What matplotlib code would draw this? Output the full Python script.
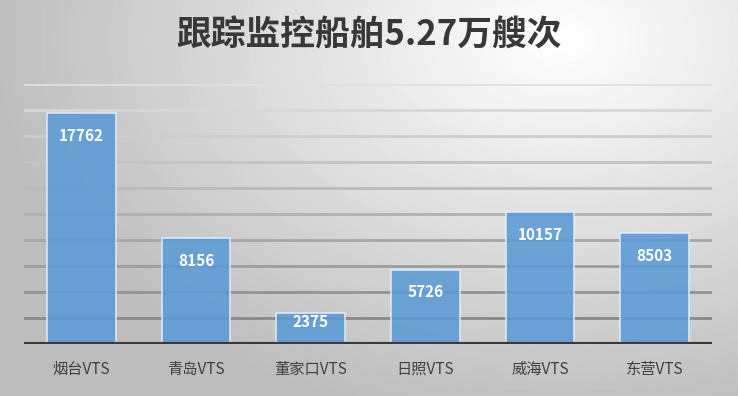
import numpy as np
import matplotlib.pyplot as plt

plt.rcParams['font.family'] = ['Noto Sans CJK SC', 'DejaVu Sans']

stations = ["烟台VTS", "青岛VTS", "董家口VTS", "日照VTS", "威海VTS", "东营VTS"]
ships = [17762, 8156, 2375, 5726, 10157, 8503]
title = "跟踪监控船舶5.27万艘次"

fig = plt.figure(figsize=(7.38, 3.96), dpi=100)

# radial grey background, brightest near the title
bg = fig.add_axes([0, 0, 1, 1], zorder=-10)
yy, xx = np.mgrid[0:396, 0:738]
r = np.sqrt(((xx - 560) / 620) ** 2 + ((yy - 40) / 420) ** 2)
shade = np.clip(1.0 - 0.28 * r, 0.74, 1.0)
bg.imshow(shade, cmap="gray", vmin=0, vmax=1, aspect="auto", interpolation="bilinear")
bg.axis("off")

ax = fig.add_axes([24 / 738, 1 - 344 / 396, 688 / 738, 260 / 396])
ax.set_facecolor("none")
x = np.arange(len(stations))
ax.set_xlim(-0.5, len(stations) - 0.5)
ax.set_ylim(0, 20000)

# gridlines fading toward the top
for level in range(2000, 20001, 2000):
    t = level / 20000
    c = 0.5 + 0.38 * t
    ax.axhline(level, color=(c, c, c), linewidth=2, zorder=1)

bars = ax.bar(x, ships, width=0.6, color="#5b9bd5", alpha=0.88,
              edgecolor="#e4eef8", linewidth=1.2, zorder=2)
ax.axhline(0, color="#3a3a3a", linewidth=3, zorder=3)

# labels sit inside the top end; short bars push them up
for xi, v in zip(x, ships):
    ax.text(xi, v - min(1750, 0.3 * v), str(v), ha="center", va="center",
            color="white", fontsize=11, fontweight="bold", zorder=4)

ax.set_xticks(x)
ax.set_xticklabels(stations, fontsize=11, color="#404040")
ax.tick_params(axis="x", length=0, pad=12)
ax.set_yticks([])
for s in ax.spines.values():
    s.set_visible(False)

fig.text(0.5, 1 - 35 / 396, title, ha="center", va="center",
         fontsize=25, fontweight="bold", color="#383838")

fig.savefig("out.png", dpi=100)
